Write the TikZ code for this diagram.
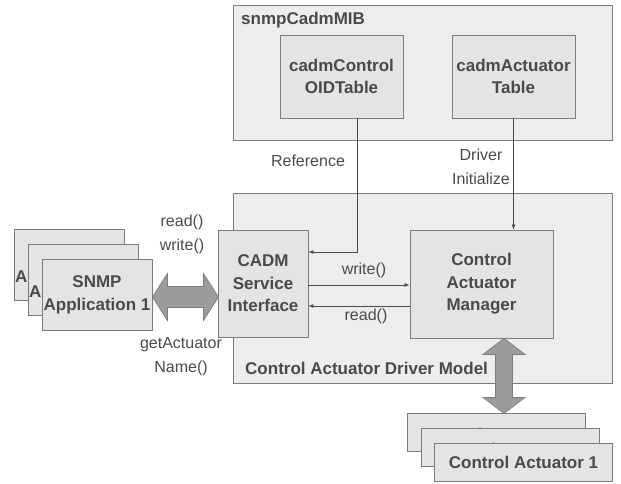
\documentclass[tikz,border=0pt]{standalone}
\usepackage{fontspec}
\setmainfont{Liberation Sans}
\usetikzlibrary{arrows.meta,calc}
\definecolor{ink}{HTML}{4A4A4A}
\definecolor{edge}{HTML}{7C7C7C}
\definecolor{boxfill}{HTML}{E4E4E4}
\definecolor{panelfill}{HTML}{EDEDED}
\definecolor{fatfill}{HTML}{9C9C9C}
\tikzset{
  panel/.style={draw=edge, fill=panelfill, line width=0.9pt, inner sep=0pt},
  box/.style={draw=edge, fill=boxfill, line width=0.9pt, align=center, inner sep=0pt,
    text=ink, font=\fontsize{17}{22.5}\selectfont\bfseries},
  title/.style={text=ink, font=\fontsize{17}{22}\selectfont\bfseries, inner sep=0pt},
  lbl/.style={text=ink, font=\fontsize{16}{24}\selectfont, align=center, inner sep=0pt},
  link/.style={draw=ink, line width=0.7pt, -{Latex[length=5pt,width=4pt]}},
  fat/.style={draw=edge, fill=fatfill, line width=0.7pt, line join=miter},
}
\begin{document}
\begin{tikzpicture}[x=1pt,y=-1pt]
\useasboundingbox (0,0) rectangle (621,484);

% MIB panel with its two tables
\node[panel, minimum width=379pt, minimum height=135pt] (mib) at (422.5,72.5) {};
\node[title, anchor=west] (mibname) at (241,20) {snmpCadmMIB};
\node[box, minimum width=123pt, minimum height=83pt] (oid) at (341.5,76.5) {cadmControl\\OIDTable};
\node[box, minimum width=123pt, minimum height=83pt] (act) at (513.5,76.5) {cadmActuator\\Table};

% driver model panel
\node[panel, minimum width=379pt, minimum height=190pt] (model) at (422.5,288) {};
\node[title, anchor=west] (modelname) at (245,368) {Control Actuator Driver Model};
\node[box, minimum width=90pt, minimum height=107pt] (cadm) at (263,283.5) {CADM\\Service\\Interface};
\node[box, minimum width=143pt, minimum height=108pt] (cam) at (481.5,284) {Control\\Actuator\\Manager};

% stacked SNMP applications (only the edge of the hidden ones shows)
\node[box, minimum width=110pt, minimum height=71pt] (app3) at (69,265) {};
\node[title, anchor=west] (app3a) at (15,277) {A};
\node[box, minimum width=110pt, minimum height=71pt] (app2) at (83,280) {};
\node[title, anchor=west] (app2a) at (29,292) {A};
\node[box, minimum width=110pt, minimum height=71pt] (app1) at (97,295) {SNMP\\Application 1};

% stacked control actuators, each one covering the text of the one behind
\node[box, minimum width=178pt, minimum height=38pt] (ca3) at (496.5,432.5) {};
\node[title] (ca3t) at (496.5,434.3) {Control Actuator 1};
\node[box, minimum width=178pt, minimum height=38pt] (ca2) at (510,447.5) {};
\node[title] (ca2t) at (510,449.3) {Control Actuator 1};
\node[box, minimum width=178pt, minimum height=38pt] (ca1) at (523.5,462.5) {Control Actuator 1};

% thin connectors
\draw[link] ([xshift=15.5pt]oid.south) |- ([yshift=31.5pt]cadm.east);
\draw[link] (act.south) -- (act.south |- cam.north);
\draw[link] ([yshift=-1.5pt]cadm.east) -- ([yshift=-1.5pt]cadm.east -| cam.west);
\draw[link] ([yshift=-22.5pt]cadm.east -| cam.west) -- ([yshift=-22.5pt]cadm.east);

\node[lbl] (ref) at (308,161) {Reference};
\node[lbl] (drv) at (481,167) {Driver\\Initialize};
\node[lbl] (wr) at (364,270) {write()};
\node[lbl] (rd) at (366,316) {read()};
\node[lbl] (rw) at (182,234) {read()\\write()};
\node[lbl] (gan) at (181,357) {getActuator\\Name()};

% wide two-way arrow between applications and service interface
\coordinate (hl) at ([yshift=-2pt]app1.east);
\filldraw[fat] (hl) -- ($(hl)+(15,-23.5)$) -- ($(hl)+(15,-10.5)$) -- ($(hl)+(51,-10.5)$)
  -- ($(hl)+(51,-23.5)$) -- ($(hl)+(66,0)$) -- ($(hl)+(51,23.5)$) -- ($(hl)+(51,10.5)$)
  -- ($(hl)+(15,10.5)$) -- ($(hl)+(15,23.5)$) -- cycle;

% wide two-way arrow between manager and actuators
\coordinate (vt) at ([xshift=22.5pt]cam.south);
\filldraw[fat] (vt) -- ($(vt)+(21,16)$) -- ($(vt)+(8.5,16)$) -- ($(vt)+(8.5,59)$)
  -- ($(vt)+(21,59)$) -- ($(vt)+(0,75)$) -- ($(vt)+(-21,59)$) -- ($(vt)+(-8.5,59)$)
  -- ($(vt)+(-8.5,16)$) -- ($(vt)+(-21,16)$) -- cycle;
\end{tikzpicture}
\end{document}
